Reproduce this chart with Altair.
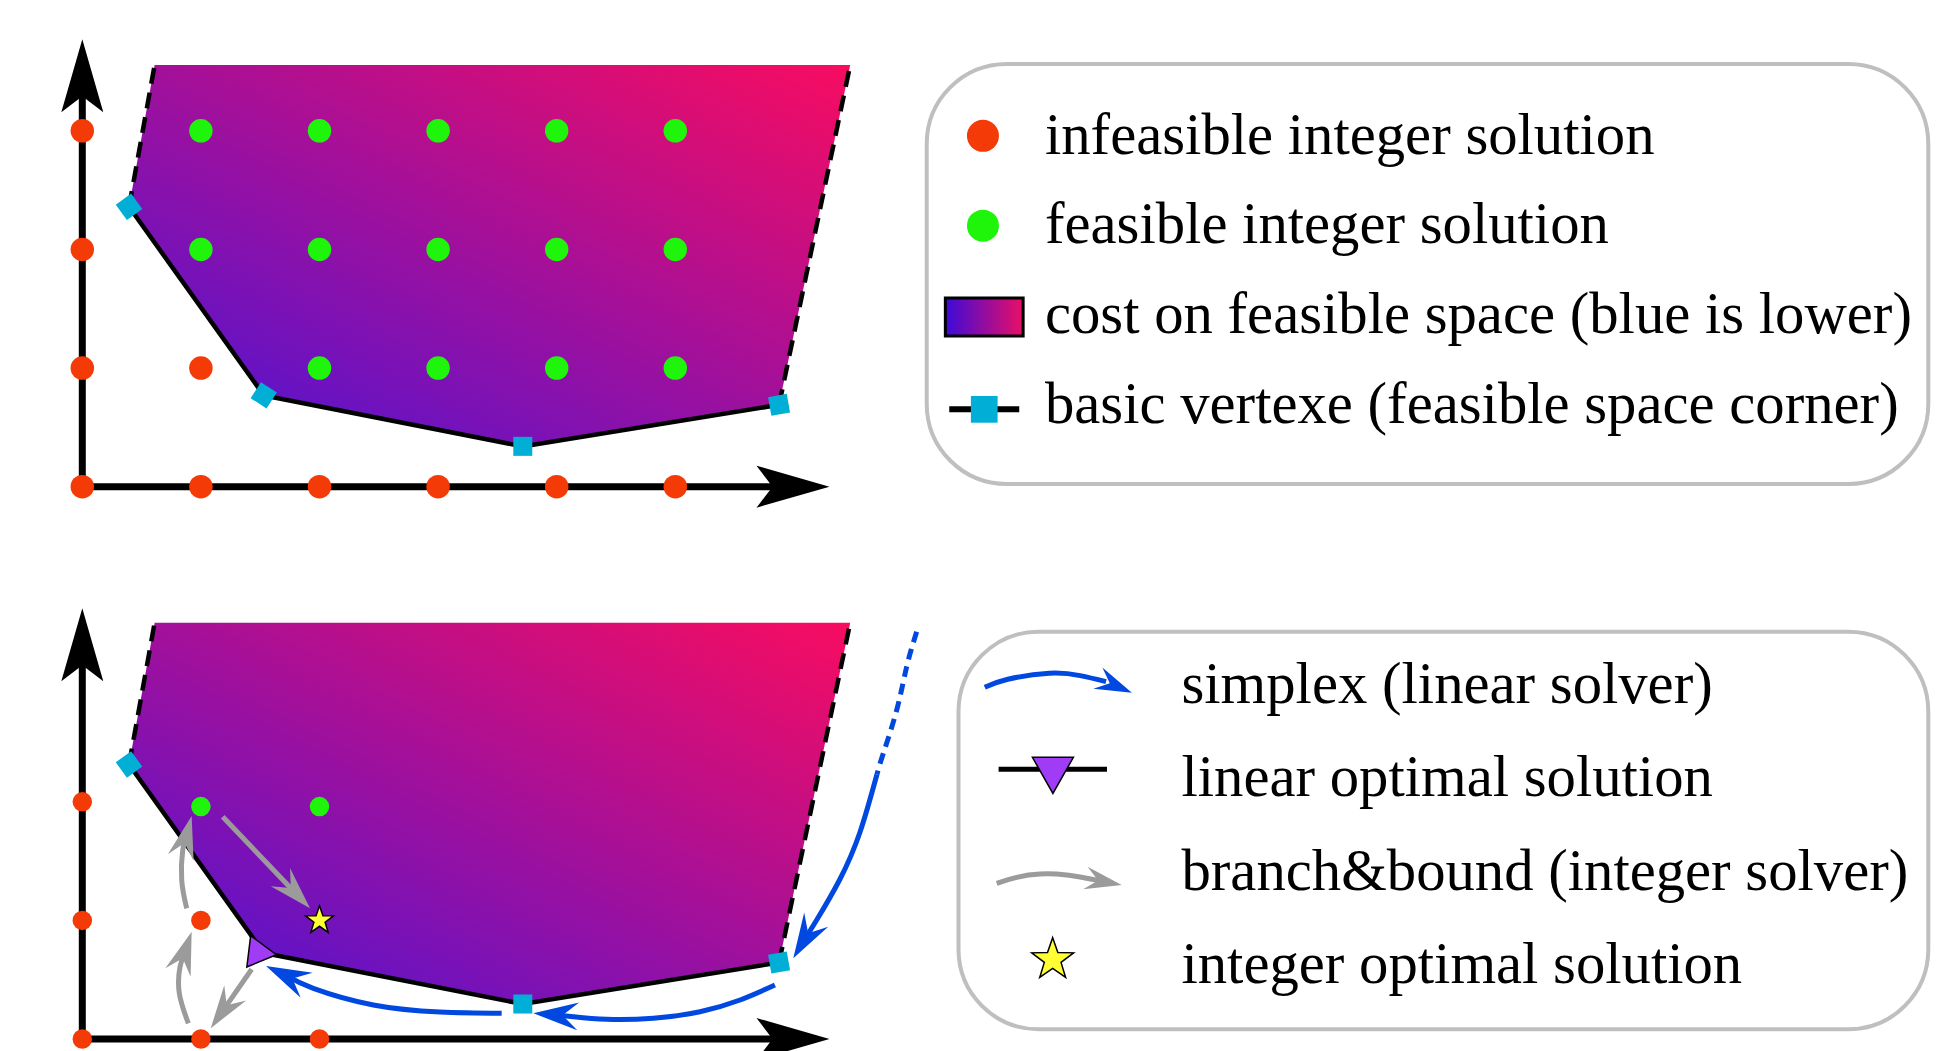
import math
import altair as alt
import pandas as pd

# ---------------- scales (grid units, same px per unit on both axes) ----------------
SC_X = alt.Scale(domain=[-0.6265, 15.630], nice=False, zero=False)
SC_Y = alt.Scale(domain=[-0.0337, 8.693], nice=False, zero=False)
TOP = 4.657      # origin of the upper panel
BOT = -0.045     # feasible region of the lower panel sits a bit lower

# ---------------- feasible region (relative to a panel origin) ----------------
poly_x = [0.394, 0.61, 1.53, 3.714, 5.875, 6.475]
poly_lo = [2.36, 2.058, 0.77, 0.34, 0.69, 3.555]
poly_hi = [2.36, 3.555, 3.555, 3.555, 3.555, 3.555]
solid_x = [0.394, 1.53, 3.714, 5.875]
solid_y = [2.36, 0.77, 0.34, 0.69]
dashL_x, dashL_y = [0.394, 0.61], [2.36, 3.555]
dashR_x, dashR_y = [5.875, 6.475], [0.69, 3.555]
vert_x = [0.394, 1.53, 3.714, 5.875]
vert_y = [2.36, 0.77, 0.34, 0.69]
vert_ang = [54, 33, 0, 350]

# ---------------- integer points ----------------
red_top_x = [0, 1, 2, 3, 4, 5, 0, 0, 0, 1]
red_top_y = [0, 0, 0, 0, 0, 0, 1, 2, 3, 1]
green_top_x = [1, 2, 3, 4, 5, 1, 2, 3, 4, 5, 2, 3, 4, 5]
green_top_y = [3, 3, 3, 3, 3, 2, 2, 2, 2, 2, 1, 1, 1, 1]
red_bot_x = [0, 1, 2, 0, 0, 1]
red_bot_y = [0, 0, 0, 1, 2, 1]
green_bot_x = [1, 2]
green_bot_y = [1.96, 1.96]
star_x, star_y = [2], [1]
lin_opt_x, lin_opt_y = [1.52], [0.77 + BOT]

# ---------------- axes ----------------
x_tip = 6.30
y_tip_top = 3.772
y_tip_bot = 3.632

# ---------------- arrows (lower panel coords) ----------------
blue_dash = ([7.035, 6.951, 6.867, 6.754, 6.70], [3.434, 3.139, 2.774, 2.409, 2.23])
blue_arrows = [
    ([6.70, 6.557, 6.389, 6.192, 6.06], [2.23, 1.743, 1.349, 1.003, 0.79], (5.995, 0.68)),
    ([5.840, 5.546, 5.208, 4.815, 4.422, 4.14, 3.98],
     [0.455, 0.329, 0.230, 0.175, 0.166, 0.188, 0.205], (3.803, 0.217)),
    ([3.536, 3.016, 2.454, 1.948, 1.73], [0.217, 0.228, 0.287, 0.427, 0.53], (1.549, 0.616)),
]
gray_arrows = [
    ([0.880, 0.838, 0.847, 0.879], [1.102, 1.341, 1.594, 1.716], (0.922, 1.880)),
    ([0.894, 0.818, 0.824, 0.868], [0.132, 0.385, 0.610, 0.744], (0.922, 0.905)),
    ([1.428, 1.180], [0.588, 0.231], (1.083, 0.091)),
    ([1.184, 1.803], [1.874, 1.225], (1.920, 1.102)),
]
leg_blue = ([7.609, 7.804, 8.153, 8.414, 8.632], [2.966, 3.033, 3.084, 3.064, 3.013], (8.850, 2.920))
leg_gray = ([7.710, 7.879, 8.075, 8.300, 8.469, 8.60], [1.313, 1.363, 1.391, 1.383, 1.355, 1.33], (8.764, 1.298))

# ---------------- legends ----------------
leg1_labels = ["infeasible integer solution", "feasible integer solution",
               "cost on feasible space (blue is lower)", "basic vertexe (feasible space corner)"]
leg2_labels = ["simplex (linear solver)", "linear optimal solution",
               "branch&bound (integer solver)", "integer optimal solution"]
leg1_box = (7.120, 15.565, 8.221, 4.680)
leg2_box = (7.388, 15.565, 3.434, 0.082)
leg1_text_x, leg1_base, leg1_step = 8.117, 7.465, 0.757
leg2_text_x, leg2_base, leg2_step = 9.268, 2.836, 0.789

RED, GREEN, CYAN = "#f43a06", "#1ef50a", "#00aed6"
BLUE, GRAY, PURPLE, YELLOW = "#0048e0", "#9b9b9b", "#a03cf5", "#ffff33"

AXIS_HEAD = "M0,0 L0.575,2 L0,1.56 L-0.575,2 Z"
HEAD = "M0,0 L0.62,2 L0,1.3 L-0.62,2 Z"
TRI = "M-1,-0.88 L1,-0.88 L0,0.88 Z"
pts = []
for k in range(10):
    r = 1.0 if k % 2 == 0 else 0.4
    a = math.radians(-90 + 36 * k)
    pts.append(f"{r*math.cos(a):.3f},{r*math.sin(a):.3f}")
STAR = "M" + " L".join(pts) + " Z"


def ang(x0, y0, x1, y1):
    return math.degrees(math.atan2(x1 - x0, y1 - y0)) % 360


def X(f="x"):
    return alt.X(f + ":Q", scale=SC_X, axis=None)


def Y(f="y"):
    return alt.Y(f + ":Q", scale=SC_Y, axis=None)


# ---------------- build tables ----------------
area_rows = []
for panel, off in (("top", TOP), ("bot", BOT)):
    for x, lo, hi in zip(poly_x, poly_lo, poly_hi):
        area_rows.append(dict(panel=panel, x=x, lo=lo + off, hi=hi + off))
area_df = pd.DataFrame(area_rows)

edge_rows = []
for panel, off in (("top", TOP), ("bot", BOT)):
    for i, (x, y) in enumerate(zip(solid_x, solid_y)):
        edge_rows.append(dict(g=panel + "s", i=i, x=x, y=y + off, kind="solid"))
    for nm, xs, ys in (("L", dashL_x, dashL_y), ("R", dashR_x, dashR_y)):
        for i, (x, y) in enumerate(zip(xs, ys)):
            edge_rows.append(dict(g=panel + nm, i=i, x=x, y=y + off, kind="dash"))
edge_df = pd.DataFrame(edge_rows)

axes_df = pd.DataFrame([
    dict(x=0, y=TOP, x2=x_tip - 0.43, y2=TOP),
    dict(x=0, y=TOP, x2=0, y2=TOP + y_tip_top - 0.43),
    dict(x=0, y=0, x2=x_tip - 0.43, y2=0),
    dict(x=0, y=0, x2=0, y2=y_tip_bot - 0.43),
])
axis_heads = pd.DataFrame([
    dict(x=x_tip, y=TOP, a=90), dict(x=0, y=TOP + y_tip_top, a=0),
    dict(x=x_tip, y=0, a=90), dict(x=0, y=y_tip_bot, a=0),
])

sq_rows = []
for x, y, a in zip(vert_x, vert_y, vert_ang):
    sq_rows.append(dict(x=x, y=y + TOP, a=a))
for j in (0, 2, 3):
    sq_rows.append(dict(x=vert_x[j], y=vert_y[j] + BOT, a=vert_ang[j]))
sq_df = pd.DataFrame(sq_rows)

dot_rows = []
for x, y in zip(red_top_x, red_top_y):
    dot_rows.append(dict(x=x, y=y + TOP, c=RED, s=552))
for x, y in zip(green_top_x, green_top_y):
    dot_rows.append(dict(x=x, y=y + TOP, c=GREEN, s=552))
for x, y in zip(red_bot_x, red_bot_y):
    dot_rows.append(dict(x=x, y=y, c=RED, s=380))
for x, y in zip(green_bot_x, green_bot_y):
    dot_rows.append(dict(x=x, y=y, c=GREEN, s=380))
dot_rows.append(dict(x=7.594, y=leg1_base + 0.15, c=RED, s=1024))
dot_rows.append(dict(x=7.594, y=leg1_base - leg1_step + 0.15, c=GREEN, s=1024))
dot_df = pd.DataFrame(dot_rows)

line_rows, head_rows = [], []
gid = 0
for col, lst, hs in ((BLUE, blue_arrows, 2025), (GRAY, gray_arrows, 1850)):
    for xs, ys, tip in lst:
        for i, (x, y) in enumerate(zip(xs, ys)):
            line_rows.append(dict(g=gid, i=i, x=x, y=y, c=col, w=5))
        head_rows.append(dict(x=tip[0], y=tip[1], a=ang(xs[-1], ys[-1], *tip), c=col, s=hs))
        gid += 1
for col, (xs, ys, tip) in ((BLUE, leg_blue), (GRAY, leg_gray)):
    for i, (x, y) in enumerate(zip(xs, ys)):
        line_rows.append(dict(g=gid, i=i, x=x, y=y, c=col, w=5))
    head_rows.append(dict(x=tip[0], y=tip[1], a=ang(xs[-1], ys[-1], *tip), c=col, s=1369))
    gid += 1
line_df = pd.DataFrame(line_rows)
head_df = pd.DataFrame(head_rows)
dash_df = pd.DataFrame(dict(i=range(len(blue_dash[0])), x=blue_dash[0], y=blue_dash[1]))

box_df = pd.DataFrame([
    dict(x=leg1_box[0], x2=leg1_box[1], y=leg1_box[2], y2=leg1_box[3]),
    dict(x=leg2_box[0], x2=leg2_box[1], y=leg2_box[2], y2=leg2_box[3]),
])
text_df = pd.DataFrame(
    [dict(x=leg1_text_x, y=leg1_base - i * leg1_step, label=t) for i, t in enumerate(leg1_labels)]
    + [dict(x=leg2_text_x, y=leg2_base - i * leg2_step, label=t) for i, t in enumerate(leg2_labels)]
)
swatch_df = pd.DataFrame([dict(x=7.277, x2=7.933, y=leg1_base - 2 * leg1_step - 0.023,
                               y2=leg1_base - 2 * leg1_step + 0.297)])
leg_rules = pd.DataFrame([
    dict(x=7.310, x2=7.900, y=leg1_base - 3 * leg1_step + 0.115, w=6),
    dict(x=7.726, x2=8.640, y=leg2_base - leg2_step + 0.227, w=5),
])
leg_sq = pd.DataFrame([dict(x=7.605, y=leg1_base - 3 * leg1_step + 0.115, a=0)])
tri_df = pd.DataFrame([dict(x=lin_opt_x[0], y=lin_opt_y[0], a=277, s=1000),
                       dict(x=8.184, y=leg2_base - leg2_step + 0.176, a=0, s=1681)])
star_df = pd.DataFrame([dict(x=star_x[0], y=star_y[0], s=864),
                        dict(x=8.182, y=leg2_base - 3 * leg2_step + 0.2, s=1936)])

# ---------------- layers ----------------
grad = alt.Gradient(gradient="linear",
                    stops=[alt.GradientStop(color="#4814d8", offset=0),
                           alt.GradientStop(color="#f80c60", offset=1)],
                    x1=0, y1=1, x2=1, y2=0)
area = alt.Chart(area_df).mark_area(color=grad, interpolate="linear").encode(
    x=X(), y=Y("lo"), y2=alt.Y2("hi"), detail="panel:N")

solid_edges = alt.Chart(edge_df).transform_filter("datum.kind == 'solid'").mark_line(
    color="black", strokeWidth=4.5, strokeJoin="miter").encode(
    x=X(), y=Y(), detail="g:N", order="i:Q")
dash_edges = alt.Chart(edge_df).transform_filter("datum.kind == 'dash'").mark_line(
    color="black", strokeWidth=4.5, strokeDash=[16, 9]).encode(
    x=X(), y=Y(), detail="g:N", order="i:Q")

axes = alt.Chart(axes_df).mark_rule(color="black", strokeWidth=7).encode(
    x=X(), y=Y(), x2=alt.X2("x2"), y2=alt.Y2("y2"))
axes_h = alt.Chart(axis_heads).mark_point(shape=AXIS_HEAD, filled=True, color="black",
                                          opacity=1, size=5329, strokeWidth=0).encode(
    x=X(), y=Y(), angle=alt.Angle("a:Q", scale=None))

dots = alt.Chart(dot_df).mark_circle(opacity=1).encode(
    x=X(), y=Y(), color=alt.Color("c:N", scale=None), size=alt.Size("s:Q", scale=None))

squares = alt.Chart(sq_df).mark_point(shape="square", filled=True, color=CYAN, opacity=1,
                                      size=361, strokeWidth=0).encode(
    x=X(), y=Y(), angle=alt.Angle("a:Q", scale=None))

lines = alt.Chart(line_df).mark_line(interpolate="natural", strokeWidth=5).encode(
    x=X(), y=Y(), detail="g:N", order="i:Q", color=alt.Color("c:N", scale=None))
dash_line = alt.Chart(dash_df).mark_line(interpolate="natural", strokeWidth=5, color=BLUE,
                                         strokeDash=[11, 7]).encode(
    x=X(), y=Y(), order="i:Q")
heads = alt.Chart(head_df).mark_point(shape=HEAD, filled=True, opacity=1, strokeWidth=0).encode(
    x=X(), y=Y(), angle=alt.Angle("a:Q", scale=None), color=alt.Color("c:N", scale=None),
    size=alt.Size("s:Q", scale=None))

boxes = alt.Chart(box_df).mark_rect(cornerRadius=80, fillOpacity=0, stroke="#bfbfbf",
                                    strokeWidth=4).encode(
    x=X(), x2=alt.X2("x2"), y=Y(), y2=alt.Y2("y2"))
swatch = alt.Chart(swatch_df).mark_rect(
    color=alt.Gradient(gradient="linear",
                       stops=[alt.GradientStop(color="#3c0ad8", offset=0),
                              alt.GradientStop(color="#ea0f66", offset=1)],
                       x1=0, y1=0, x2=1, y2=0),
    stroke="black", strokeWidth=3).encode(x=X(), x2=alt.X2("x2"), y=Y(), y2=alt.Y2("y2"))
lrules = alt.Chart(leg_rules).mark_rule(color="black").encode(
    x=X(), x2=alt.X2("x2"), y=Y(), strokeWidth=alt.StrokeWidth("w:Q", scale=None))
lsq = alt.Chart(leg_sq).mark_point(shape="square", filled=True, color=CYAN, opacity=1,
                                   size=713, strokeWidth=0).encode(x=X(), y=Y())
tris = alt.Chart(tri_df).mark_point(shape=TRI, filled=True, fill=PURPLE, stroke="black",
                                    strokeWidth=1.5, opacity=1).encode(
    x=X(), y=Y(), angle=alt.Angle("a:Q", scale=None), size=alt.Size("s:Q", scale=None))
stars = alt.Chart(star_df).mark_point(shape=STAR, filled=True, fill=YELLOW, stroke="black",
                                      strokeWidth=1.5, opacity=1).encode(
    x=X(), y=Y(), size=alt.Size("s:Q", scale=None))
texts = alt.Chart(text_df).mark_text(font="Liberation Serif", fontSize=58.7, align="left",
                                     baseline="alphabetic", color="black").encode(
    x=X(), y=Y(), text="label:N")

chart = alt.layer(
    area, dash_edges, solid_edges, axes, axes_h, dots, squares, dash_line, lines, heads,
    boxes, swatch, lrules, lsq, tris, stars, texts
).properties(
    width=1928, height=1035,
    padding={"left": 0, "top": 0, "right": 0, "bottom": 12},
    autosize=alt.AutoSizeParams(type="none"),
    background="white",
).configure_view(stroke=None)

chart.save("out.html", embed_options={"renderer": "svg", "actions": False})
